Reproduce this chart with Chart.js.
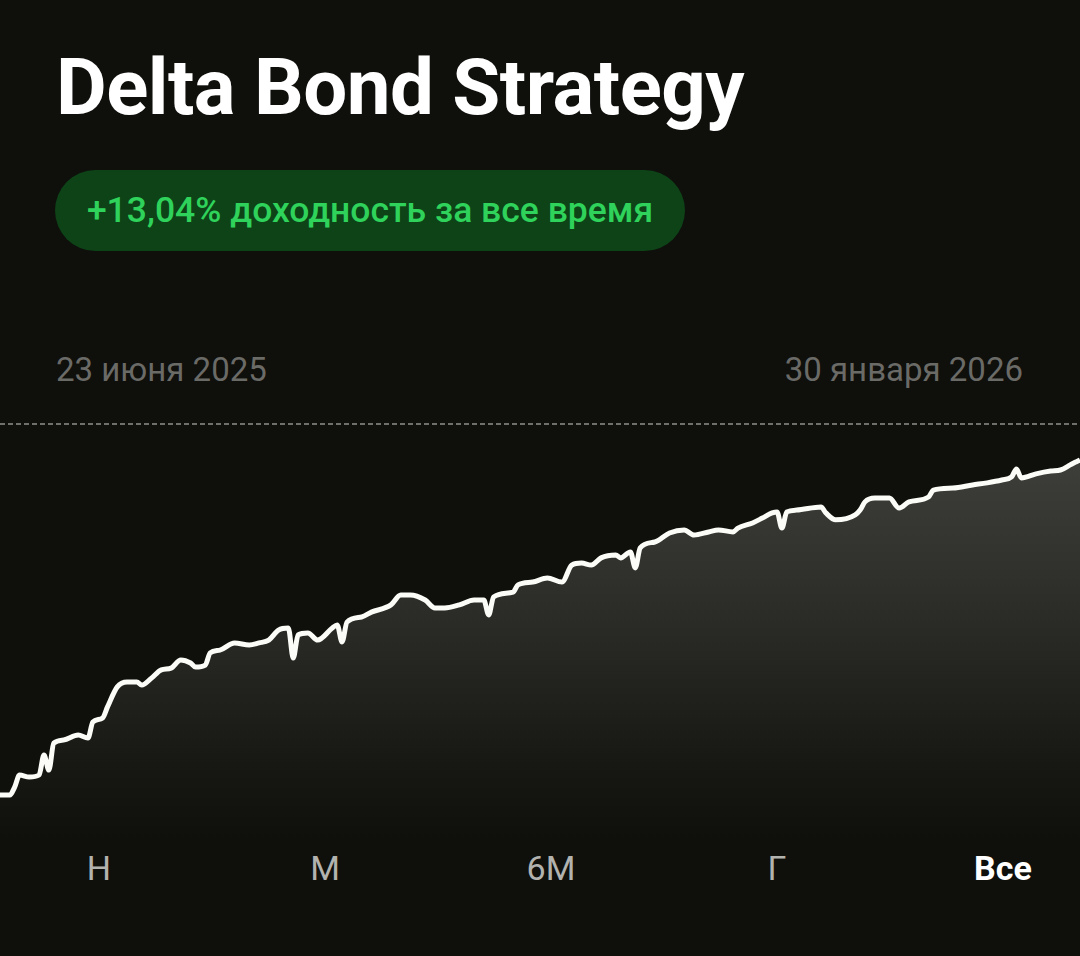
<!DOCTYPE html>
<html lang="ru">
<head>
<meta charset="utf-8">
<script src="https://cdn.jsdelivr.net/npm/chart.js@4/dist/chart.umd.min.js"></script>
<style>
    html, body { margin: 0; padding: 0; background: #0f0f0c; }
    body { width: 1080px; height: 956px; position: relative; overflow: hidden; font-family: Roboto, "Noto Sans", sans-serif; }
    h1 { position: absolute; left: 56px; top: 40px; margin: 0; font-size: 78px; font-weight: 700; color: #ffffff; letter-spacing: -0.5px; line-height: 96px; }
    .pill { position: absolute; left: 55px; top: 170px; width: 630px; height: 81px; border-radius: 41px; background: #0d4317; color: #2fd25a; font-size: 35.5px; font-weight: 500; line-height: 81px; text-align: center; }
    .date { position: absolute; top: 350px; font-size: 33px; color: #6a6a67; line-height: 40px; }
    #chartBox { position: absolute; left: 0; top: 423px; width: 1080px; height: 417px; }
    .periods span { position: absolute; top: 848px; font-size: 34px; color: #b2b2ae; line-height: 40px; transform: translateX(-50%); }
    .periods span.active { color: #ffffff; font-weight: 700; }
</style>
</head>
<body>
<h1>Delta Bond Strategy</h1>
<div class="pill">+13,04% доходность за все время</div>
<div class="date" style="left:56px">23 июня 2025</div>
<div class="date" style="right:57px">30 января 2026</div>
<div id="chartBox"><canvas id="lineChart"></canvas></div>
<div class="periods">
    <span style="left:99px">Н</span>
    <span style="left:325px">М</span>
    <span style="left:551px">6М</span>
    <span style="left:777px">Г</span>
    <span class="active" style="left:1003px">Все</span>
</div>
<script>
// дни от 23.06.2025 и доходность, %
const days = [0, 2, 3, 4, 6, 8, 9, 10, 11, 13, 16, 18, 19, 21, 22, 24, 26, 28, 29, 31,
    33, 35, 37, 39, 40, 42, 43, 45, 48, 51, 53, 55, 57, 59, 60, 61, 63, 65, 68, 69,
    70, 71, 74, 76, 80, 82, 84, 87, 89, 91, 94, 97, 99, 100, 101, 105, 106, 109, 112, 115,
    117, 119, 121, 123, 126, 127, 129, 130, 131, 134, 137, 140, 142, 145, 147, 150, 151, 154, 156, 158,
    159, 160, 161, 163, 168, 169, 171, 175, 176, 177, 179, 182, 184, 186, 190, 191, 195, 199, 202, 205,
    207, 208, 209, 212, 215, 217, 219, 220, 221];
const returns = [0, 0, 0.31, 0.78, 0.70, 0.78, 1.56, 0.97, 2.02, 2.14, 2.34, 2.22, 2.84, 3.00, 3.43, 4.21, 4.40, 4.40, 4.28, 4.55,
    4.87, 4.94, 5.26, 5.14, 4.98, 5.06, 5.53, 5.64, 5.92, 5.84, 5.92, 6.03, 6.42, 6.50, 5.33, 6.23, 6.31, 6.03, 6.50, 6.62,
    5.96, 6.73, 6.93, 7.12, 7.40, 7.79, 7.79, 7.59, 7.28, 7.28, 7.40, 7.59, 7.59, 7.01, 7.71, 7.90, 8.18, 8.29, 8.45, 8.29,
    8.95, 9.03, 8.95, 9.23, 9.34, 9.23, 9.46, 8.84, 9.62, 9.85, 10.20, 10.32, 10.12, 10.24, 10.32, 10.24, 10.39, 10.59, 10.78, 10.98,
    11.02, 10.39, 11.02, 11.09, 11.21, 10.98, 10.71, 10.90, 11.09, 11.41, 11.56, 11.56, 11.17, 11.41, 11.60, 11.87, 11.95, 12.07, 12.15, 12.26,
    12.38, 12.69, 12.34, 12.50, 12.61, 12.65, 12.85, 12.95, 13.04];

const yMin = -1.75;
const yMax = 14.48;

const points = days.map((d, i) => ({ x: d, y: returns[i] }));

const topDash = {
    id: 'topDash',
    beforeDatasetsDraw(chart) {
        const { ctx, chartArea } = chart;
        ctx.save();
        ctx.strokeStyle = '#6f6f6b';
        ctx.lineWidth = 2;
        ctx.setLineDash([5, 3]);
        ctx.beginPath();
        ctx.moveTo(0, chartArea.top + 1);
        ctx.lineTo(chart.width, chartArea.top + 1);
        ctx.stroke();
        ctx.restore();
    }
};

new Chart(document.getElementById('lineChart'), {
    type: 'line',
    data: {
        datasets: [{
            data: points,
            borderColor: '#fbfbf7',
            borderWidth: 5,
            pointRadius: 0,
            tension: 0.35,
            cubicInterpolationMode: 'monotone',
            fill: 'start',
            backgroundColor: (context) => {
                const { ctx, chartArea } = context.chart;
                if (!chartArea) return 'rgba(60,60,57,0.8)';
                const g = ctx.createLinearGradient(0, chartArea.top + 40, 0, chartArea.bottom);
                g.addColorStop(0, '#3d3d3a');
                g.addColorStop(0.45, '#292926');
                g.addColorStop(0.8, '#171714');
                g.addColorStop(1, '#0f0f0c');
                return g;
            }
        }]
    },
    options: {
        responsive: true,
        maintainAspectRatio: false,
        animation: false,
        layout: { padding: 0 },
        scales: {
            x: { type: 'linear', min: days[0], max: days[days.length - 1], display: false },
            y: { min: yMin, max: yMax, display: false }
        },
        plugins: {
            legend: { display: false },
            tooltip: { enabled: false }
        }
    },
    plugins: [topDash]
});
</script>
</body>
</html>
